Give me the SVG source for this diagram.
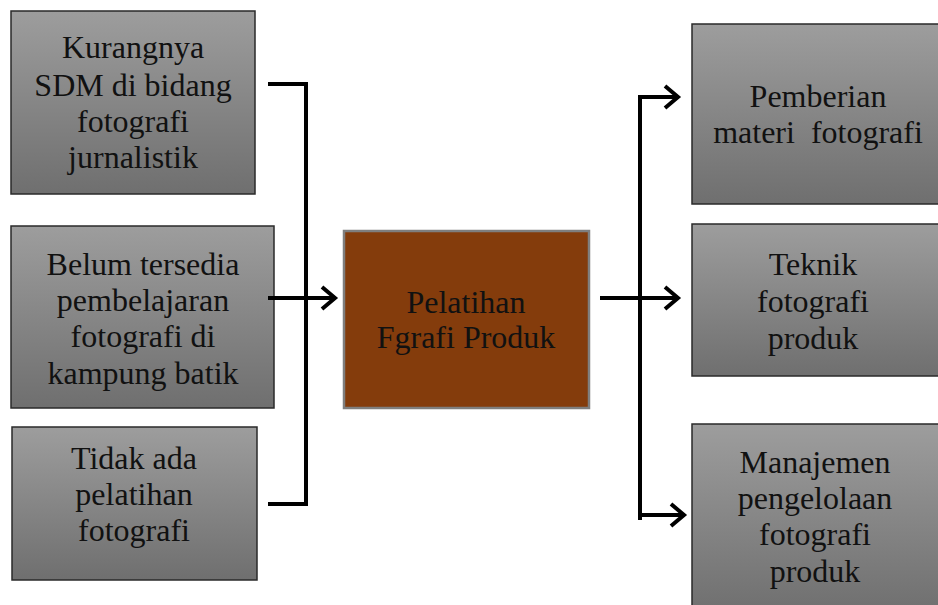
<svg xmlns="http://www.w3.org/2000/svg" width="938" height="605" viewBox="0 0 938 605">
<defs>
<linearGradient id="g" x1="0" y1="0" x2="0" y2="1">
<stop offset="0" stop-color="#9d9d9d"/>
<stop offset="1" stop-color="#6f6f6f"/>
</linearGradient>
<style>
.box{fill:url(#g);stroke:#2a2a2a;stroke-width:1.5}
.ctr{fill:#843c0c;stroke:#7f7f7f;stroke-width:2.5}
.t{font-family:"Liberation Serif","Times New Roman",serif;font-size:32px;fill:#111;text-anchor:middle}
.c{fill:none;stroke:#000;stroke-width:4}
.ah{fill:none;stroke:#000;stroke-width:4;stroke-linecap:butt;stroke-linejoin:miter}
</style>
</defs>
<rect width="938" height="605" fill="#fff"/>
<g id="n1"><rect class="box" x="11" y="11" width="244" height="183"/>
<text class="t"><tspan x="133" y="58">Kurangnya</tspan><tspan x="133" y="96">SDM di bidang</tspan><tspan x="133" y="132">fotografi</tspan><tspan x="133" y="168">jurnalistik</tspan></text></g>
<g id="n2"><rect class="box" x="11" y="226" width="263" height="182"/>
<text class="t"><tspan x="143" y="275">Belum tersedia</tspan><tspan x="143" y="311">pembelajaran</tspan><tspan x="143" y="347">fotografi di</tspan><tspan x="143" y="384">kampung batik</tspan></text></g>
<g id="n3"><rect class="box" x="12" y="427" width="245" height="153"/>
<text class="t"><tspan x="134" y="469">Tidak ada</tspan><tspan x="134" y="505">pelatihan</tspan><tspan x="134" y="541">fotografi</tspan></text></g>
<g id="center"><rect class="ctr" x="344" y="231" width="245" height="177"/>
<text class="t"><tspan x="466" y="313">Pelatihan</tspan><tspan x="466" y="348">Fgrafi Produk</tspan></text></g>
<g id="r1"><rect class="box" x="692" y="24" width="250" height="180"/>
<text class="t"><tspan x="818" y="107">Pemberian</tspan><tspan x="818" y="143" xml:space="preserve">materi  fotografi</tspan></text></g>
<g id="r2"><rect class="box" x="692" y="224" width="250" height="152"/>
<text class="t"><tspan x="813" y="275">Teknik</tspan><tspan x="813" y="312">fotografi</tspan><tspan x="813" y="349">produk</tspan></text></g>
<g id="r3"><rect class="box" x="692" y="424" width="250" height="190"/>
<text class="t"><tspan x="815" y="473">Manajemen</tspan><tspan x="815" y="509">pengelolaan</tspan><tspan x="815" y="545">fotografi</tspan><tspan x="815" y="582">produk</tspan></text></g>
<g id="connectors">
<path class="c" d="M268 84 H306 V504 H268"/>
<path class="c" d="M268 298 H334"/>
<path class="ah" d="M322 287 L335 298 L322 309"/>
<path class="c" d="M600 298 H677"/>
<path class="ah" d="M665 287 L678 298 L665 309"/>
<path class="c" d="M640 520 V97 H677"/>
<path class="ah" d="M665 86 L678 97 L665 108"/>
<path class="c" d="M640 515 H683"/>
<path class="ah" d="M671 504 L684 515 L671 526"/>
</g>
</svg>
